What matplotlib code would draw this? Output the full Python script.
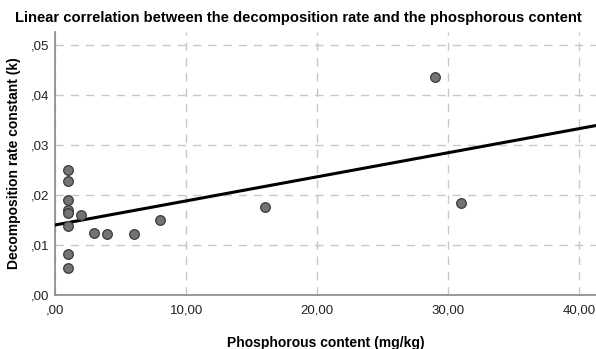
import numpy as np
import matplotlib
matplotlib.use('Agg')
import matplotlib.pyplot as plt
from matplotlib.ticker import FuncFormatter

# phosphorous content (mg/kg) vs decomposition rate constant k
phos = [1, 1, 1, 1, 1, 2, 1, 3, 4, 6, 8, 1, 1, 16, 31, 29]
k    = [0.0250, 0.0228, 0.0191, 0.0170, 0.0165, 0.0160, 0.0138, 0.0125,
        0.0123, 0.0123, 0.0151, 0.0083, 0.0054, 0.0176, 0.0185, 0.0437]

# fitted line
fit_intercept = 0.0140
fit_slope     = 0.000482

x_ticks = [0, 10, 20, 30, 40]
y_ticks = [0, 0.01, 0.02, 0.03, 0.04, 0.05]

plt.rcParams['font.family'] = ['Liberation Sans', 'DejaVu Sans']


def comma_fmt(v, pos):
    s = ('%.2f' % v).replace('.', ',')
    return s[1:] if s.startswith('0') else s


fig = plt.figure(figsize=(5.96, 3.49), dpi=100)
ax = fig.add_axes([55 / 596, 1 - 295 / 349, 541 / 596, 263 / 349])

ax.set_xlim(0, 41.27)
ax.set_ylim(0, 0.0526)

xs = np.array([0, 41.27])
ax.plot(xs, fit_intercept + fit_slope * xs, color='black', lw=2.2, zorder=3)
ax.scatter(phos, k, s=48, color='#737373', edgecolor='#3a3a3a', lw=0.9, zorder=4)

ax.set_xticks(x_ticks)
ax.set_yticks(y_ticks)
ax.xaxis.set_major_formatter(FuncFormatter(comma_fmt))
ax.yaxis.set_major_formatter(FuncFormatter(comma_fmt))
ax.tick_params(length=0, labelsize=9.5, colors='#222222')
ax.tick_params(axis='x', pad=7)
ax.tick_params(axis='y', pad=4)

ax.grid(True, color='#c8c8c8', ls=(0, (6, 5)), lw=1)
ax.set_axisbelow(True)
for s in ['top', 'right']:
    ax.spines[s].set_visible(False)
for s in ['left', 'bottom']:
    ax.spines[s].set_color('#888888')
    ax.spines[s].set_linewidth(1.2)

ax.set_xlabel('Phosphorous content (mg/kg)', fontsize=10, fontweight='bold', labelpad=14)
ax.set_ylabel('Decomposition rate constant (k)', fontsize=10, fontweight='bold', labelpad=7)
fig.text(298 / 596, 1 - 18 / 349,
         'Linear correlation between the decomposition rate and the phosphorous content',
         ha='center', va='center', fontsize=10.6, fontweight='bold')

fig.savefig('out.png', dpi=100)
